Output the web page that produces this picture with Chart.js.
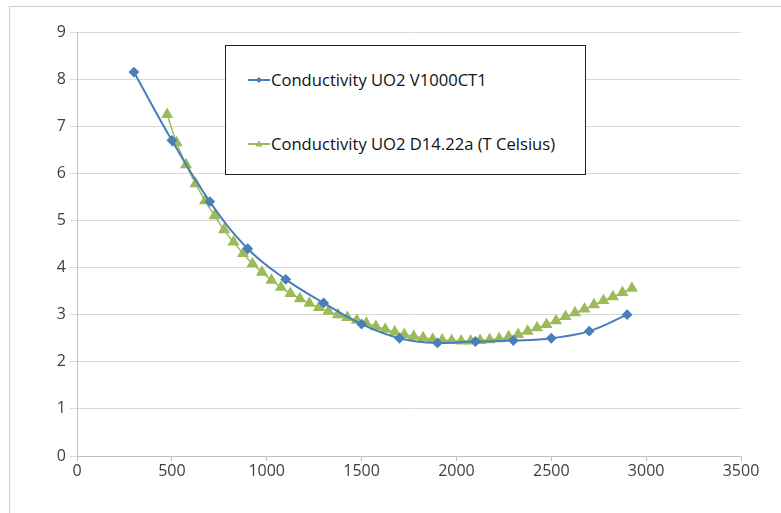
<!DOCTYPE html>
<html>
<head>
<meta charset="utf-8">
<script src="https://cdn.jsdelivr.net/npm/chart.js@4/dist/chart.umd.min.js"></script>
<style>
  html, body { margin: 0; padding: 0; background: #fff; }
  #wrap { position: relative; width: 781px; height: 513px; overflow: hidden; }
  #frame { position: absolute; left: 9px; top: 6px; width: 800px; height: 520px;
           border-top: 1px solid #d0d0d0; border-left: 1px solid #d0d0d0; }
  #chart { position: absolute; left: 0; top: 0; }
  #legend { position: absolute; left: 225px; top: 45px; width: 359px; height: 128px;
            border: 1.5px solid #222; background: #fff;
            font-family: "Open Sans", sans-serif; font-size: 16.6px; color: #111; }
  .item { position: absolute; left: 22px; display: flex; align-items: center; }
  .item canvas { margin-right: 1px; }
</style>
</head>
<body>
<div id="wrap">
  <div id="frame"></div>
  <canvas id="chart" width="781" height="513"></canvas>
  <div id="legend"></div>
</div>
<script>
// Series 1: diamonds, every 200
const xBlue = [300, 500, 700, 900, 1100, 1300, 1500, 1700, 1900, 2100, 2300, 2500, 2700, 2900];
const yBlue = [8.15, 6.7, 5.4, 4.4, 3.75, 3.25, 2.8, 2.5, 2.4, 2.43, 2.45, 2.5, 2.65, 3.0];

// Series 2: triangles, every 50
const xGreen = [475, 525, 575, 625, 675, 725, 775, 825, 875, 925,
                975, 1025, 1075, 1125, 1175, 1225, 1275, 1325, 1375, 1425,
                1475, 1525, 1575, 1625, 1675, 1725, 1775, 1825, 1875, 1925,
                1975, 2025, 2075, 2125, 2175, 2225, 2275, 2325, 2375, 2425,
                2475, 2525, 2575, 2625, 2675, 2725, 2775, 2825, 2875, 2925];
const yGreen = [7.25, 6.65, 6.18, 5.78, 5.42, 5.10, 4.80, 4.54, 4.30, 4.08,
                3.90, 3.73, 3.58, 3.45, 3.34, 3.24, 3.15, 3.07, 3.00, 2.94,
                2.88, 2.82, 2.75, 2.69, 2.63, 2.58, 2.54, 2.51, 2.48, 2.46,
                2.45, 2.44, 2.44, 2.45, 2.47, 2.49, 2.53, 2.58, 2.65, 2.72,
                2.79, 2.87, 2.96, 3.04, 3.12, 3.21, 3.30, 3.38, 3.47, 3.56];

const seriesNames = ['Conductivity UO2 V1000CT1', 'Conductivity UO2 D14.22a (T Celsius)'];
const colors = ['#4a7ebb', '#9bbb59'];

function toPoints(xs, ys) {
    return xs.map((x, i) => ({ x: x, y: ys[i] }));
}

const tickFont = { family: "'Open Sans', sans-serif", size: 16 };

new Chart(document.getElementById('chart'), {
    type: 'scatter',
    data: {
        datasets: [{
            label: seriesNames[0],
            data: toPoints(xBlue, yBlue),
            showLine: true,
            borderColor: colors[0],
            backgroundColor: colors[0],
            borderWidth: 2,
            tension: 0.4,
            pointStyle: 'rectRot',
            pointRadius: 4,
            pointHoverRadius: 4
        }, {
            label: seriesNames[1],
            data: toPoints(xGreen, yGreen),
            showLine: true,
            borderColor: colors[1],
            backgroundColor: colors[1],
            borderWidth: 1.5,
            tension: 0.4,
            pointStyle: 'triangle',
            pointRadius: 5.5,
            pointHoverRadius: 5.5
        }]
    },
    options: {
        responsive: false,
        animation: false,
        layout: { padding: { left: 0, top: 32, right: 40, bottom: 0 } },
        plugins: { legend: { display: false }, tooltip: { enabled: false } },
        scales: {
            x: {
                type: 'linear',
                min: 0, max: 3500,
                ticks: { stepSize: 500, color: '#404040', font: tickFont, padding: 1, maxRotation: 0,
                         callback: v => String(v) },
                grid: { drawOnChartArea: false, drawTicks: true, tickLength: 5, color: '#bfbfbf' },
                border: { color: '#bfbfbf' },
                afterFit: s => { s.height = 57; }
            },
            y: {
                min: 0, max: 9,
                ticks: { stepSize: 1, color: '#404040', font: tickFont, padding: 4 },
                grid: { color: '#d9d9d9', tickLength: 7 },
                border: { color: '#bfbfbf' },
                afterFit: s => { s.width = 77; }
            }
        }
    }
});

// HTML legend
const legend = document.getElementById('legend');
const tops = [22, 86];
seriesNames.forEach((name, i) => {
    const item = document.createElement('div');
    item.className = 'item';
    item.style.top = tops[i] + 'px';
    const c = document.createElement('canvas');
    c.width = 22; c.height = 12;
    const g = c.getContext('2d');
    g.strokeStyle = colors[i]; g.fillStyle = colors[i]; g.lineWidth = 2;
    g.beginPath(); g.moveTo(0, 6); g.lineTo(22, 6); g.stroke();
    g.beginPath();
    if (i === 0) {
        g.moveTo(11, 3); g.lineTo(14, 6); g.lineTo(11, 9); g.lineTo(8, 6);
    } else {
        g.moveTo(11, 2.5); g.lineTo(14.5, 8.5); g.lineTo(7.5, 8.5);
    }
    g.closePath(); g.fill();
    item.appendChild(c);
    const t = document.createElement('span');
    t.textContent = name;
    item.appendChild(t);
    legend.appendChild(item);
});
</script>
</body>
</html>
